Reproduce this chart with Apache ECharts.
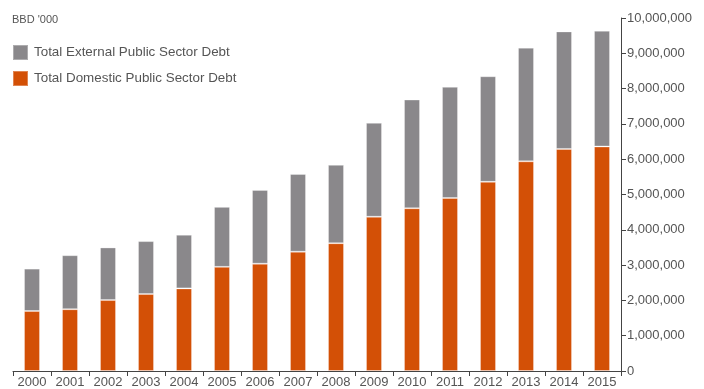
<!DOCTYPE html>
<html>
<head>
<meta charset="utf-8">
<script src="https://cdn.jsdelivr.net/npm/echarts@6/dist/echarts.min.js"></script>
<style>
html,body{margin:0;padding:0;background:#fff;}
#chart{width:704px;height:389px;}
</style>
</head>
<body>
<div id="chart"></div>
<script>
// 数据
var years = ["2000","2001","2002","2003","2004","2005","2006","2007","2008","2009","2010","2011","2012","2013","2014","2015"];
var domestic = [1700000,1750000,2010000,2180000,2340000,2950000,3040000,3380000,3620000,4370000,4610000,4900000,5360000,5940000,6290000,6360000];
var external = [1200000,1530000,1490000,1500000,1520000,1700000,2090000,2200000,2220000,2660000,3080000,3150000,2990000,3220000,3330000,3280000];
var yTicks = [0,1000000,2000000,3000000,4000000,5000000,6000000,7000000,8000000,9000000,10000000];

var textColor = "#555";
var font = "Liberation Sans, Arial, sans-serif";

var myChart = echarts.init(document.getElementById('chart'));
myChart.setOption({
    animation: false,
    title: {
        text: "BBD '000",
        left: 12,
        top: 14,
        padding: 0,
        textStyle: {fontSize: 11, fontWeight: "normal", color: textColor, fontFamily: font}
    },
    legend: {
        orient: "vertical",
        left: 12,
        top: 44,
        padding: 0,
        icon: "rect",
        itemWidth: 15,
        itemHeight: 15,
        itemGap: 9,
        data: ["Total External Public Sector Debt", "Total Domestic Public Sector Debt"],
        textStyle: {fontSize: 13.4, color: textColor, fontFamily: font, padding: [2,0,0,1]}
    },
    grid: {left: 13, right: 83, top: 18, bottom: 17, containLabel: false},
    xAxis: {
        type: "category",
        data: years,
        axisLine: {lineStyle: {color: "#444"}},
        axisTick: {show: true, length: 5, lineStyle: {color: "#444"}},
        axisLabel: {color: textColor, fontSize: 13, fontFamily: font, margin: 5}
    },
    yAxis: {
        type: "value",
        position: "right",
        min: yTicks[0],
        max: yTicks[yTicks.length - 1],
        interval: 1000000,
        splitLine: {show: false},
        axisLine: {show: true, lineStyle: {color: "#444"}},
        axisTick: {show: true, length: 5, lineStyle: {color: "#444"}},
        axisLabel: {
            color: textColor, fontSize: 13, fontFamily: font, margin: 6,
            formatter: function (v) { return v.toLocaleString("en-US"); }
        }
    },
    series: [
        {
            name: "Total Domestic Public Sector Debt",
            type: "bar",
            stack: "debt",
            barWidth: 16,
            data: domestic,
            itemStyle: {color: "#d35006", borderColor: "rgba(255,255,255,0.3)", borderWidth: 1}
        },
        {
            name: "Total External Public Sector Debt",
            type: "bar",
            stack: "debt",
            barWidth: 16,
            data: external,
            itemStyle: {color: "#8a888b", borderColor: "rgba(255,255,255,0.3)", borderWidth: 1}
        }
    ]
});
window.addEventListener("resize", function() {
    myChart.resize();
});
</script>
</body>
</html>
